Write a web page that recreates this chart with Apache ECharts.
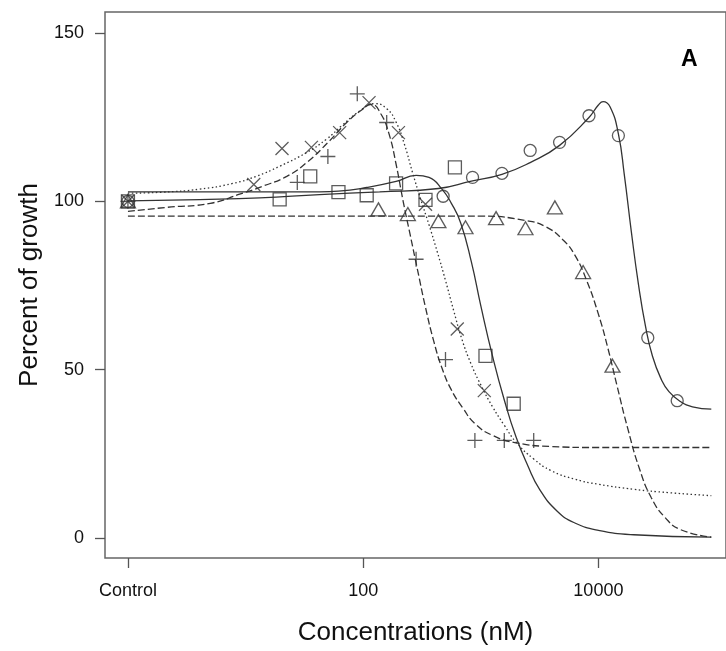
<!DOCTYPE html>
<html>
<head>
<meta charset="utf-8">
<script src="https://cdn.jsdelivr.net/npm/echarts@6/dist/echarts.min.js"></script>
<style>
html,body{margin:0;padding:0;background:#fff;}
#main{width:726px;height:651px;}
</style>
</head>
<body>
<div id="main"></div>
<script>
// x values are log10 of concentration (nM), "Control" sits at 0
var tickPos = [0, 2, 4];
var tickText = ['Control', '100', '10000'];
var yTicks = [0, 50, 100, 150];

// measured points
var circleX = [0, 2.68, 2.93, 3.18, 3.42, 3.67, 3.92, 4.17, 4.42, 4.67];
var circleY = [100, 101.5, 107.1, 108.3, 115.1, 117.5, 125.4, 119.5, 59.5, 40.8];
var squareX = [0, 1.29, 1.55, 1.79, 2.03, 2.28, 2.53, 2.78, 3.04, 3.28];
var squareY = [100, 100.6, 107.4, 102.7, 101.8, 105.3, 100.4, 110.1, 54.1, 39.9];
var crossX = [0, 1.07, 1.31, 1.56, 1.80, 2.05, 2.30, 2.53, 2.80, 3.03];
var crossY = [100, 105.0, 115.7, 116.0, 120.4, 129.3, 120.4, 99.1, 62.1, 43.8];
var plusX = [0, 1.44, 1.70, 1.95, 2.20, 2.45, 2.70, 2.95, 3.20, 3.45];
var plusY = [100, 105.6, 113.3, 131.9, 123.4, 82.8, 53.0, 29.0, 29.0, 29.0];
var triX = [0, 2.13, 2.38, 2.64, 2.87, 3.13, 3.38, 3.63, 3.87, 4.12];
var triY = [100, 97.6, 96.2, 94.1, 92.3, 95.0, 92.0, 98.2, 79.0, 51.2];

// fitted curves
var circleFitX = [0, 0.61, 1.12, 1.63, 2.14, 2.64, 2.92, 3.18, 3.42, 3.67, 3.92, 4.0, 4.04, 4.10, 4.17, 4.22, 4.28, 4.34, 4.40, 4.46, 4.53, 4.60, 4.70, 4.80, 4.96];
var circleFitY = [100.1, 100.5, 101.0, 102.0, 102.8, 103.8, 106.0, 108.0, 111.5, 116.6, 124.9, 128.6, 129.6, 128.0, 120.0, 108.0, 91.0, 75.5, 63.0, 54.0, 47.5, 43.5, 40.5, 39.0, 38.3];
var squareFitX = [0, 0.61, 1.12, 1.63, 1.79, 2.03, 2.28, 2.45, 2.56, 2.67, 2.75, 2.83, 2.92, 3.0, 3.1, 3.2, 3.3, 3.4, 3.5, 3.65, 3.8, 4.0, 4.3, 4.96];
var squareFitY = [102.8, 102.8, 102.8, 102.8, 103.0, 104.1, 105.9, 107.7, 107.1, 103.6, 99.4, 93.5, 82.0, 69.0, 54.0, 41.0, 30.0, 21.5, 14.5, 8.0, 4.5, 2.3, 1.0, 0.3];
var crossFitX = [0, 0.29, 0.61, 0.89, 1.09, 1.29, 1.52, 1.69, 1.82, 1.97, 2.10, 2.20, 2.28, 2.35, 2.42, 2.49, 2.56, 2.63, 2.70, 2.77, 2.84, 2.92, 3.0, 3.1, 3.2, 3.3, 3.45, 3.6, 3.8, 4.0, 4.3, 4.6, 4.96];
var crossFitY = [102.4, 102.7, 103.6, 105.3, 107.4, 110.4, 114.5, 118.5, 122.5, 126.8, 129.0, 127.5, 123.5, 117.0, 108.5, 100.5, 93.0, 85.0, 76.5, 67.5, 59.0, 51.5, 45.5, 39.0, 33.5, 28.5, 23.5, 20.0, 17.5, 16.0, 14.5, 13.5, 12.6];
var plusFitX = [0, 0.33, 0.70, 0.95, 1.14, 1.35, 1.52, 1.71, 1.86, 1.99, 2.07, 2.15, 2.22, 2.28, 2.34, 2.40, 2.46, 2.53, 2.60, 2.67, 2.75, 2.85, 2.95, 3.1, 3.3, 3.6, 4.0, 4.96];
var plusFitY = [97.0, 98.2, 99.4, 102.1, 104.4, 107.4, 111.5, 117.8, 123.4, 127.2, 128.8, 126.0, 120.0, 111.0, 100.0, 90.0, 80.0, 68.5, 58.5, 50.5, 44.0, 38.5, 34.0, 30.5, 28.3, 27.2, 26.9, 26.9];
var triFitX = [0, 1.0, 2.0, 2.6, 3.01, 3.38, 3.55, 3.70, 3.80, 3.90, 4.0, 4.08, 4.16, 4.25, 4.35, 4.45, 4.57, 4.70, 4.96];
var triFitY = [95.6, 95.6, 95.6, 95.6, 95.6, 94.3, 92.5, 88.5, 84.0, 76.5, 66.5, 56.5, 45.0, 32.5, 20.5, 12.0, 6.0, 2.5, 0.3];

function pairs(xs, ys) {
	var out = [];
	for (var i = 0; i < xs.length; i++) out.push([xs[i], ys[i]]);
	return out;
}

var ink = '#333';

function fit(xs, ys, dash) {
	return {
		type: 'line', data: pairs(xs, ys), showSymbol: false, smooth: 0.5,
		silent: true, z: 2,
		lineStyle: {color: ink, width: 1.3, type: dash}
	};
}
function pts(xs, ys, symbol, size) {
	return {
		type: 'scatter', data: pairs(xs, ys), symbol: symbol, symbolSize: size, z: 3,
		itemStyle: {color: 'rgba(0,0,0,0)', borderColor: ink, borderWidth: 1.3}
	};
}

var myChart = echarts.init(document.getElementById('main'));
var font = '"Liberation Sans", Arial, sans-serif';

var option = {
	animation: false,
	grid: {left: 105, right: -2, top: 12, bottom: 91, show: true, borderColor: '#666', borderWidth: 1.5},
	xAxis: {
		type: 'value', min: -0.195, max: 5.085,
		axisLine: {show: false, onZero: false},
		splitLine: {show: false},
		axisTick: {customValues: tickPos, length: 10, lineStyle: {color: '#555', width: 1.3}},
		axisLabel: {
			customValues: tickPos, margin: 24, color: '#111', fontSize: 18, fontFamily: font,
			formatter: function(v) { return tickText[tickPos.indexOf(v)]; }
		},
		name: 'Concentrations (nM)', nameLocation: 'middle', nameGap: 62,
		nameTextStyle: {fontSize: 26, color: '#111', fontFamily: font}
	},
	yAxis: {
		type: 'value', min: -5.9, max: 156.2,
		axisLine: {show: false, onZero: false},
		splitLine: {show: false},
		axisTick: {customValues: yTicks, length: 10, lineStyle: {color: '#555', width: 1.3}},
		axisLabel: {customValues: yTicks, margin: 21, color: '#111', fontSize: 18, fontFamily: font},
		name: 'Percent of growth', nameLocation: 'middle', nameGap: 50, nameRotate: 90,
		nameTextStyle: {fontSize: 26, color: '#111', fontFamily: font}
	},
	graphic: [{
		type: 'text', left: 681, top: 48,
		style: {text: 'A', font: 'bold 23px "Liberation Sans", Arial, sans-serif', fill: '#000'}
	}],
	series: [
		fit(circleFitX, circleFitY, 'solid'),
		fit(squareFitX, squareFitY, 'solid'),
		fit(crossFitX, crossFitY, [1.5, 2.5]),
		fit(plusFitX, plusFitY, [7, 3]),
		fit(triFitX, triFitY, [7, 3]),
		pts(circleX, circleY, 'circle', 12),
		pts(squareX, squareY, 'rect', 13),
		pts(crossX, crossY, 'path://M0,0L10,10M10,0L0,10', 13),
		pts(plusX, plusY, 'path://M5,0L5,10M0,5L10,5', 15),
		pts(triX, triY, 'triangle', [15, 13])
	]
};
myChart.setOption(option);
</script>
</body>
</html>
